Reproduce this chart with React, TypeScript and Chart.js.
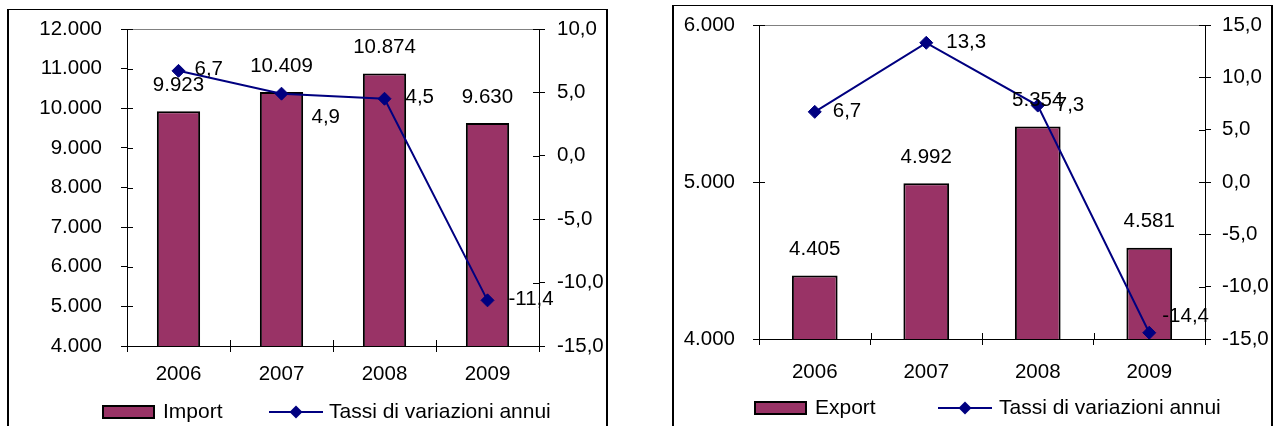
import React, { useEffect, useRef } from 'react';
import { Chart, registerables } from 'chart.js';

Chart.register(...registerables);

// ---------- data ----------
const years = ['2006', '2007', '2008', '2009'];
const importValues = [9923, 10409, 10874, 9630];
const importRates = [6.7, 4.9, 4.5, -11.4];
const exportValues = [4405, 4992, 5354, 4581];
const exportRates = [6.7, 13.3, 7.3, -14.4];
const importAxis = [4000, 12000, 1000];
const importRateAxis = [-15, 10, 5];
const exportAxis = [4000, 6000, 1000];
const exportRateAxis = [-15, 15, 5];
const importLabel = 'Import';
const exportLabel = 'Export';
const rateLabel = 'Tassi di variazioni annui';

// ---------- style ----------
const FONT = '"Liberation Sans", Arial, sans-serif';
const FS = 20.5;
const BAR_COLOR = '#993366';
const LINE_COLOR = '#000080';
const W = 637;
const H = 426;

Chart.defaults.font.family = FONT;
Chart.defaults.font.size = FS;
Chart.defaults.color = '#000';

const fmtThousands = (v: number) =>
  Math.round(v).toString().replace(/\B(?=(\d{3})+(?!\d))/g, '.');
const fmtRate = (v: number) => v.toFixed(1).replace('.', ',');

function drawDiamond(ctx: CanvasRenderingContext2D, x: number, y: number, r: number) {
  ctx.beginPath();
  ctx.moveTo(x, y - r);
  ctx.lineTo(x + r, y);
  ctx.lineTo(x, y + r);
  ctx.lineTo(x - r, y);
  ctx.closePath();
  ctx.fill();
}

const decorPlugin = {
  id: 'decor',
  afterDraw(chart: any, _args: any, opts: any) {
    const ctx: CanvasRenderingContext2D = chart.ctx;
    const ca = chart.chartArea;
    ctx.save();
    // plot-area top border
    ctx.strokeStyle = '#808080';
    ctx.lineWidth = 1;
    ctx.beginPath();
    ctx.moveTo(ca.left, Math.round(ca.top) + 0.5);
    ctx.lineTo(ca.right, Math.round(ca.top) + 0.5);
    ctx.stroke();

    // inner halves of the cross tick marks
    ctx.strokeStyle = '#000';
    const yS = chart.scales.y;
    const y1S = chart.scales.y1;
    const xS = chart.scales.x;
    ctx.beginPath();
    yS.ticks.forEach((t: any) => {
      const p = Math.round(yS.getPixelForValue(t.value)) + 0.5;
      ctx.moveTo(ca.left, p);
      ctx.lineTo(ca.left + 6, p);
    });
    y1S.ticks.forEach((t: any) => {
      const p = Math.round(y1S.getPixelForValue(t.value)) + 0.5;
      ctx.moveTo(ca.right, p);
      ctx.lineTo(ca.right - 6, p);
    });
    for (let i = 0; i <= chart.data.labels.length; i++) {
      const p = Math.round(xS.getPixelForValue(i - 0.5)) + 0.5;
      ctx.moveTo(p, ca.bottom);
      ctx.lineTo(p, ca.bottom - 6);
    }
    ctx.stroke();

    // data labels
    ctx.fillStyle = '#000';
    ctx.font = `${FS}px ${FONT}`;
    ctx.textBaseline = 'middle';
    const barMeta = chart.getDatasetMeta(0);
    const barData = chart.data.datasets[0].data;
    ctx.textAlign = 'center';
    barMeta.data.forEach((el: any, i: number) => {
      ctx.fillText(fmtThousands(barData[i]), el.x, el.y - opts.barLabelGap);
    });
    const lineMeta = chart.getDatasetMeta(1);
    const lineData = chart.data.datasets[1].data;
    ctx.textAlign = 'left';
    lineMeta.data.forEach((el: any, i: number) => {
      const [dx, dy] = opts.lineLabelOffsets[i];
      ctx.fillText(fmtRate(lineData[i]), el.x + dx, el.y + dy);
    });

    // legend
    const lg = opts.legend;
    ctx.font = `21px ${FONT}`;
    ctx.fillStyle = BAR_COLOR;
    ctx.fillRect(lg.swatchX, lg.y - 6, 51, 12);
    ctx.strokeStyle = '#000';
    ctx.lineWidth = 2;
    ctx.strokeRect(lg.swatchX, lg.y - 6, 51, 12);
    ctx.fillStyle = '#000';
    ctx.fillText(chart.data.datasets[0].label, lg.barTextX, lg.y);
    ctx.strokeStyle = LINE_COLOR;
    ctx.lineWidth = 2;
    ctx.beginPath();
    ctx.moveTo(lg.lineX, lg.y);
    ctx.lineTo(lg.lineX + 54, lg.y);
    ctx.stroke();
    ctx.fillStyle = LINE_COLOR;
    drawDiamond(ctx, lg.lineX + 27, lg.y, 6.5);
    ctx.fillStyle = '#000';
    ctx.fillText(chart.data.datasets[1].label, lg.lineTextX, lg.y);
    ctx.restore();
  },
};

type PanelCfg = {
  frame: { left: number; top: number; width: number };
  area: { left: number; right: number; top: number; bottom: number };
  barLabel: string;
  bars: number[];
  rates: number[];
  leftAxis: number[];
  rightAxis: number[];
  leftPad: number;
  rightPad: number;
  xPad: number;
  barPct: number;
  lineLabelOffsets: number[][];
  legend: any;
};

function Panel({ cfg }: { cfg: PanelCfg }) {
  const ref = useRef<HTMLCanvasElement>(null);
  useEffect(() => {
    const a = cfg.area;
    const chart = new Chart(ref.current as HTMLCanvasElement, {
      type: 'bar',
      data: {
        labels: years,
        datasets: [
          {
            type: 'bar',
            label: cfg.barLabel,
            data: cfg.bars,
            yAxisID: 'y',
            backgroundColor: BAR_COLOR,
            borderColor: '#000',
            borderWidth: 2,
            barPercentage: cfg.barPct,
            categoryPercentage: 1,
            order: 2,
          },
          {
            type: 'line',
            label: rateLabel,
            data: cfg.rates,
            yAxisID: 'y1',
            borderColor: LINE_COLOR,
            borderWidth: 2,
            backgroundColor: LINE_COLOR,
            pointStyle: 'rectRot',
            pointRadius: 6.5,
            pointBorderWidth: 1,
            pointBorderColor: LINE_COLOR,
            pointBackgroundColor: LINE_COLOR,
            tension: 0,
            order: 1,
          },
        ],
      } as any,
      plugins: [decorPlugin],
      options: {
        animation: false,
        responsive: false,
        events: [],
        layout: { padding: { top: a.top, left: 0, right: 0, bottom: 0 } },
        plugins: {
          legend: { display: false },
          tooltip: { enabled: false },
          decor: {
            barLabelGap: 26,
            lineLabelOffsets: cfg.lineLabelOffsets,
            legend: cfg.legend,
          },
        } as any,
        scales: {
          x: {
            offset: true,
            grid: { display: true, drawOnChartArea: false, offset: true, tickLength: 6, color: '#000' },
            border: { display: true, color: '#000', width: 1 },
            ticks: { padding: cfg.xPad, color: '#000' },
            afterFit: (s: any) => {
              s.height = H - a.bottom;
              s.paddingLeft = 0;
              s.paddingRight = 0;
            },
          },
          y: {
            position: 'left',
            min: cfg.leftAxis[0],
            max: cfg.leftAxis[1],
            grid: { drawOnChartArea: false, tickLength: 6, color: '#000' },
            border: { display: true, color: '#000', width: 1 },
            ticks: {
              stepSize: cfg.leftAxis[2],
              padding: cfg.leftPad,
              color: '#000',
              callback: (v: any) => fmtThousands(Number(v)),
            },
            afterFit: (s: any) => {
              s.width = a.left;
              s.paddingTop = 0;
              s.paddingBottom = 0;
            },
          },
          y1: {
            position: 'right',
            min: cfg.rightAxis[0],
            max: cfg.rightAxis[1],
            grid: { drawOnChartArea: false, tickLength: 6, color: '#000' },
            border: { display: true, color: '#000', width: 1 },
            ticks: {
              stepSize: cfg.rightAxis[2],
              padding: cfg.rightPad,
              color: '#000',
              callback: (v: any) => fmtRate(Number(v)),
            },
            afterFit: (s: any) => {
              s.width = W - a.right;
              s.paddingTop = 0;
              s.paddingBottom = 0;
            },
          },
        },
      } as any,
    });
    return () => chart.destroy();
  }, []);
  return (
    <>
      <div
        style={{
          position: 'absolute',
          left: cfg.frame.left,
          top: cfg.frame.top,
          width: cfg.frame.width,
          height: 600,
          boxSizing: 'border-box',
          border: '1px solid #000',
          borderLeftWidth: 2,
          borderRightWidth: 2,
        }}
      />
      <canvas
        ref={ref}
        width={W}
        height={H}
        style={{ position: 'absolute', left: 0, top: 0, width: W, height: H }}
      />
    </>
  );
}

const leftPanel: PanelCfg = {
  frame: { left: 7, top: 9, width: 601 },
  area: { left: 127, right: 539, top: 29, bottom: 346 },
  barLabel: importLabel,
  bars: importValues,
  rates: importRates,
  leftAxis: importAxis,
  rightAxis: importRateAxis,
  leftPad: 19,
  rightPad: 12,
  xPad: 10,
  barPct: 0.42,
  lineLabelOffsets: [[16, -2], [30, 24], [21, -1], [21, -1]],
  legend: { y: 412, swatchX: 103, barTextX: 163, lineX: 269, lineTextX: 329 },
};

const rightPanel: PanelCfg = {
  frame: { left: 35, top: 5, width: 601 },
  area: { left: 122, right: 568, top: 25, bottom: 339 },
  barLabel: exportLabel,
  bars: exportValues,
  rates: exportRates,
  leftAxis: exportAxis,
  rightAxis: exportRateAxis,
  leftPad: 18,
  rightPad: 11,
  xPad: 15,
  barPct: 0.41,
  lineLabelOffsets: [[18, -1], [20, 0], [18, 0], [13, -16]],
  legend: { y: 408, swatchX: 118, barTextX: 178, lineX: 301, lineTextX: 362 },
};

export default function App() {
  return (
    <div
      style={{
        position: 'absolute',
        left: 0,
        top: 0,
        width: 1274,
        height: 426,
        overflow: 'hidden',
        background: '#fff',
      }}
    >
      <div style={{ position: 'absolute', left: 0, top: 0, width: W, height: H, overflow: 'hidden' }}>
        <Panel cfg={leftPanel} />
      </div>
      <div style={{ position: 'absolute', left: 637, top: 0, width: W, height: H, overflow: 'hidden' }}>
        <Panel cfg={rightPanel} />
      </div>
    </div>
  );
}
